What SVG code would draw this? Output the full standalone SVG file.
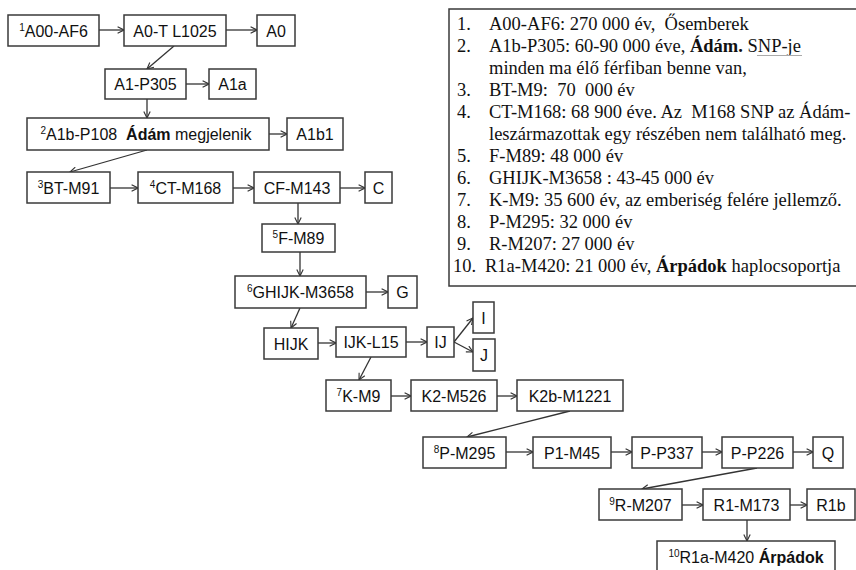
<svg xmlns="http://www.w3.org/2000/svg" width="856" height="570" viewBox="0 0 856 570">
<defs>
<marker id="ah" viewBox="0 0 10 10" refX="9" refY="5" markerWidth="8" markerHeight="8" markerUnits="userSpaceOnUse" orient="auto">
<path d="M1,1 L9,5 L1,9" fill="none" stroke="#333" stroke-width="1.4"/>
</marker>
<style>
.b{fill:#fff;stroke:#3a3a3a;stroke-width:1.5}
.t{font-family:"Liberation Sans",Arial,sans-serif;font-size:16px;fill:#111;text-anchor:middle;white-space:pre}
.s{font-size:10px}
.c line{stroke:#333;stroke-width:1.3;marker-end:url(#ah)}
.l{font-family:"Liberation Serif","Times New Roman",serif;font-size:18.5px;fill:#111;white-space:pre}
.bd{font-weight:bold}
</style>
</defs>
<rect width="856" height="570" fill="#fff"/>
<g id="legend">
<rect x="449" y="9" width="420" height="277" fill="#fff" stroke="#3a3a3a" stroke-width="1.5"/>
<text class="l" x="457" y="30">1.</text><text class="l" x="489" y="30">A00-AF6: 270 000 év,  Ősemberek</text>
<text class="l" x="457" y="52">2.</text><text class="l" x="489" y="52">A1b-P305: 60-90 000 éve, <tspan class="bd">Ádám.</tspan> SNP-je</text>
<line x1="757" y1="55.5" x2="802" y2="55.5" stroke="#aaa" stroke-width="1.2"/>
<text class="l" x="489" y="74">minden ma élő férfiban benne van,</text>
<text class="l" x="457" y="96">3.</text><text class="l" x="489" y="96">BT-M9:  70  000 év</text>
<text class="l" x="457" y="118">4.</text><text class="l" x="489" y="118">CT-M168: 68 900 éve. Az  M168 SNP az Ádám-</text>
<text class="l" x="489" y="140">leszármazottak egy részében nem található meg.</text>
<text class="l" x="457" y="162">5.</text><text class="l" x="489" y="162">F-M89: 48 000 év</text>
<text class="l" x="457" y="184">6.</text><text class="l" x="489" y="184">GHIJK-M3658 : 43-45 000 év</text>
<text class="l" x="457" y="206">7.</text><text class="l" x="489" y="206">K-M9: 35 600 év, az emberiség felére jellemző.</text>
<text class="l" x="457" y="228">8.</text><text class="l" x="489" y="228">P-M295: 32 000 év</text>
<text class="l" x="457" y="250">9.</text><text class="l" x="489" y="250">R-M207: 27 000 év</text>
<text class="l" x="453" y="272">10.</text><text class="l" x="485" y="272">R1a-M420: 21 000 év, <tspan class="bd">Árpádok</tspan> haplocsoportja</text>
</g>
<g id="connectors" class="c">
<line x1="99" y1="30" x2="124" y2="30"/>
<line x1="226" y1="30" x2="257" y2="30"/>
<line x1="174" y1="46" x2="147" y2="69"/>
<line x1="186" y1="84" x2="209" y2="84"/>
<line x1="147" y1="99" x2="147" y2="118"/>
<line x1="269" y1="134" x2="287" y2="134"/>
<line x1="147" y1="150" x2="70" y2="172"/>
<line x1="110" y1="188" x2="138" y2="188"/>
<line x1="233" y1="188" x2="254" y2="188"/>
<line x1="340" y1="188" x2="365" y2="188"/>
<line x1="298" y1="203" x2="298" y2="224"/>
<line x1="300" y1="252" x2="300" y2="276"/>
<line x1="366" y1="292" x2="388" y2="292"/>
<line x1="300" y1="308" x2="291" y2="328"/>
<line x1="318" y1="343" x2="336" y2="343"/>
<line x1="406" y1="342" x2="427" y2="342"/>
<line x1="454" y1="342" x2="473" y2="318"/>
<line x1="454" y1="342" x2="473" y2="352"/>
<line x1="371" y1="357" x2="359" y2="380"/>
<line x1="391" y1="396" x2="411" y2="396"/>
<line x1="497" y1="396" x2="517" y2="396"/>
<line x1="570" y1="411" x2="467" y2="437"/>
<line x1="506" y1="452" x2="533" y2="452"/>
<line x1="611" y1="452" x2="632" y2="452"/>
<line x1="702" y1="452" x2="722" y2="452"/>
<line x1="793" y1="452" x2="813" y2="452"/>
<line x1="757" y1="468" x2="642" y2="489"/>
<line x1="682" y1="505" x2="703" y2="505"/>
<line x1="790" y1="505" x2="807" y2="505"/>
<line x1="747" y1="520" x2="747" y2="541"/>
</g>
<g id="n-A00"><rect class="b" x="8" y="15" width="91" height="31"/><text class="t" x="53.5" y="36.5"><tspan class="s" dy="-6">1</tspan><tspan dy="6">A00-AF6</tspan></text></g>
<g id="n-A0T"><rect class="b" x="124" y="15" width="102" height="31"/><text class="t" x="175" y="36.5">A0-T L1025</text></g>
<g id="n-A0"><rect class="b" x="257" y="15" width="38" height="31"/><text class="t" x="276" y="36.5">A0</text></g>
<g id="n-A1"><rect class="b" x="105" y="69" width="81" height="30"/><text class="t" x="145.5" y="90">A1-P305</text></g>
<g id="n-A1a"><rect class="b" x="209" y="69" width="47" height="30"/><text class="t" x="232.5" y="90">A1a</text></g>
<g id="n-A1b"><rect class="b" x="27" y="118" width="242" height="32"/><text class="t" x="146" y="140"><tspan class="s" dy="-6">2</tspan><tspan dy="6">A1b-P108  </tspan><tspan font-weight="bold">Ádám</tspan> megjelenik</text></g>
<g id="n-A1b1"><rect class="b" x="287" y="118" width="56" height="32"/><text class="t" x="315" y="140">A1b1</text></g>
<g id="n-BT"><rect class="b" x="27" y="172" width="83" height="31"/><text class="t" x="68.5" y="193.5"><tspan class="s" dy="-6">3</tspan><tspan dy="6">BT-M91</tspan></text></g>
<g id="n-CT"><rect class="b" x="138" y="172" width="95" height="31"/><text class="t" x="185.5" y="193.5"><tspan class="s" dy="-6">4</tspan><tspan dy="6">CT-M168</tspan></text></g>
<g id="n-CF"><rect class="b" x="254" y="172" width="86" height="31"/><text class="t" x="297" y="193.5">CF-M143</text></g>
<g id="n-C"><rect class="b" x="365" y="172" width="27" height="31"/><text class="t" x="378.5" y="193.5">C</text></g>
<g id="n-F"><rect class="b" x="262" y="224" width="73" height="28"/><text class="t" x="298.5" y="244"><tspan class="s" dy="-6">5</tspan><tspan dy="6">F-M89</tspan></text></g>
<g id="n-GHIJK"><rect class="b" x="235" y="276" width="131" height="32"/><text class="t" x="300.5" y="298"><tspan class="s" dy="-6">6</tspan><tspan dy="6">GHIJK-M3658</tspan></text></g>
<g id="n-G"><rect class="b" x="388" y="276" width="29" height="32"/><text class="t" x="402.5" y="298">G</text></g>
<g id="n-HIJK"><rect class="b" x="264" y="328" width="54" height="31"/><text class="t" x="291" y="349.5">HIJK</text></g>
<g id="n-IJK"><rect class="b" x="336" y="327" width="70" height="30"/><text class="t" x="371" y="348">IJK-L15</text></g>
<g id="n-IJ"><rect class="b" x="427" y="327" width="27" height="30"/><text class="t" x="440.5" y="348">IJ</text></g>
<g id="n-I"><rect class="b" x="473" y="302" width="21" height="31"/><text class="t" x="483.5" y="323.5">I</text></g>
<g id="n-J"><rect class="b" x="473" y="339" width="22" height="32"/><text class="t" x="484" y="361">J</text></g>
<g id="n-K"><rect class="b" x="326" y="380" width="65" height="31"/><text class="t" x="358.5" y="401.5"><tspan class="s" dy="-6">7</tspan><tspan dy="6">K-M9</tspan></text></g>
<g id="n-K2"><rect class="b" x="411" y="380" width="86" height="31"/><text class="t" x="454" y="401.5">K2-M526</text></g>
<g id="n-K2b"><rect class="b" x="517" y="380" width="106" height="31"/><text class="t" x="570" y="401.5">K2b-M1221</text></g>
<g id="n-P"><rect class="b" x="423" y="437" width="83" height="31"/><text class="t" x="464.5" y="458.5"><tspan class="s" dy="-6">8</tspan><tspan dy="6">P-M295</tspan></text></g>
<g id="n-P1"><rect class="b" x="533" y="437" width="78" height="31"/><text class="t" x="572" y="458.5">P1-M45</text></g>
<g id="n-P337"><rect class="b" x="632" y="437" width="70" height="31"/><text class="t" x="667" y="458.5">P-P337</text></g>
<g id="n-P226"><rect class="b" x="722" y="437" width="71" height="31"/><text class="t" x="757.5" y="458.5">P-P226</text></g>
<g id="n-Q"><rect class="b" x="813" y="437" width="30" height="31"/><text class="t" x="828" y="458.5">Q</text></g>
<g id="n-R"><rect class="b" x="599" y="489" width="83" height="31"/><text class="t" x="640.5" y="510.5"><tspan class="s" dy="-6">9</tspan><tspan dy="6">R-M207</tspan></text></g>
<g id="n-R1"><rect class="b" x="703" y="489" width="87" height="31"/><text class="t" x="746.5" y="510.5">R1-M173</text></g>
<g id="n-R1b"><rect class="b" x="807" y="489" width="48" height="31"/><text class="t" x="831" y="510.5">R1b</text></g>
<g id="n-R1a"><rect class="b" x="657" y="541" width="178" height="32"/><text class="t" x="746" y="562.5"><tspan class="s" dy="-6">10</tspan><tspan dy="6">R1a-M420 </tspan><tspan font-weight="bold">Árpádok</tspan></text></g>
</svg>
